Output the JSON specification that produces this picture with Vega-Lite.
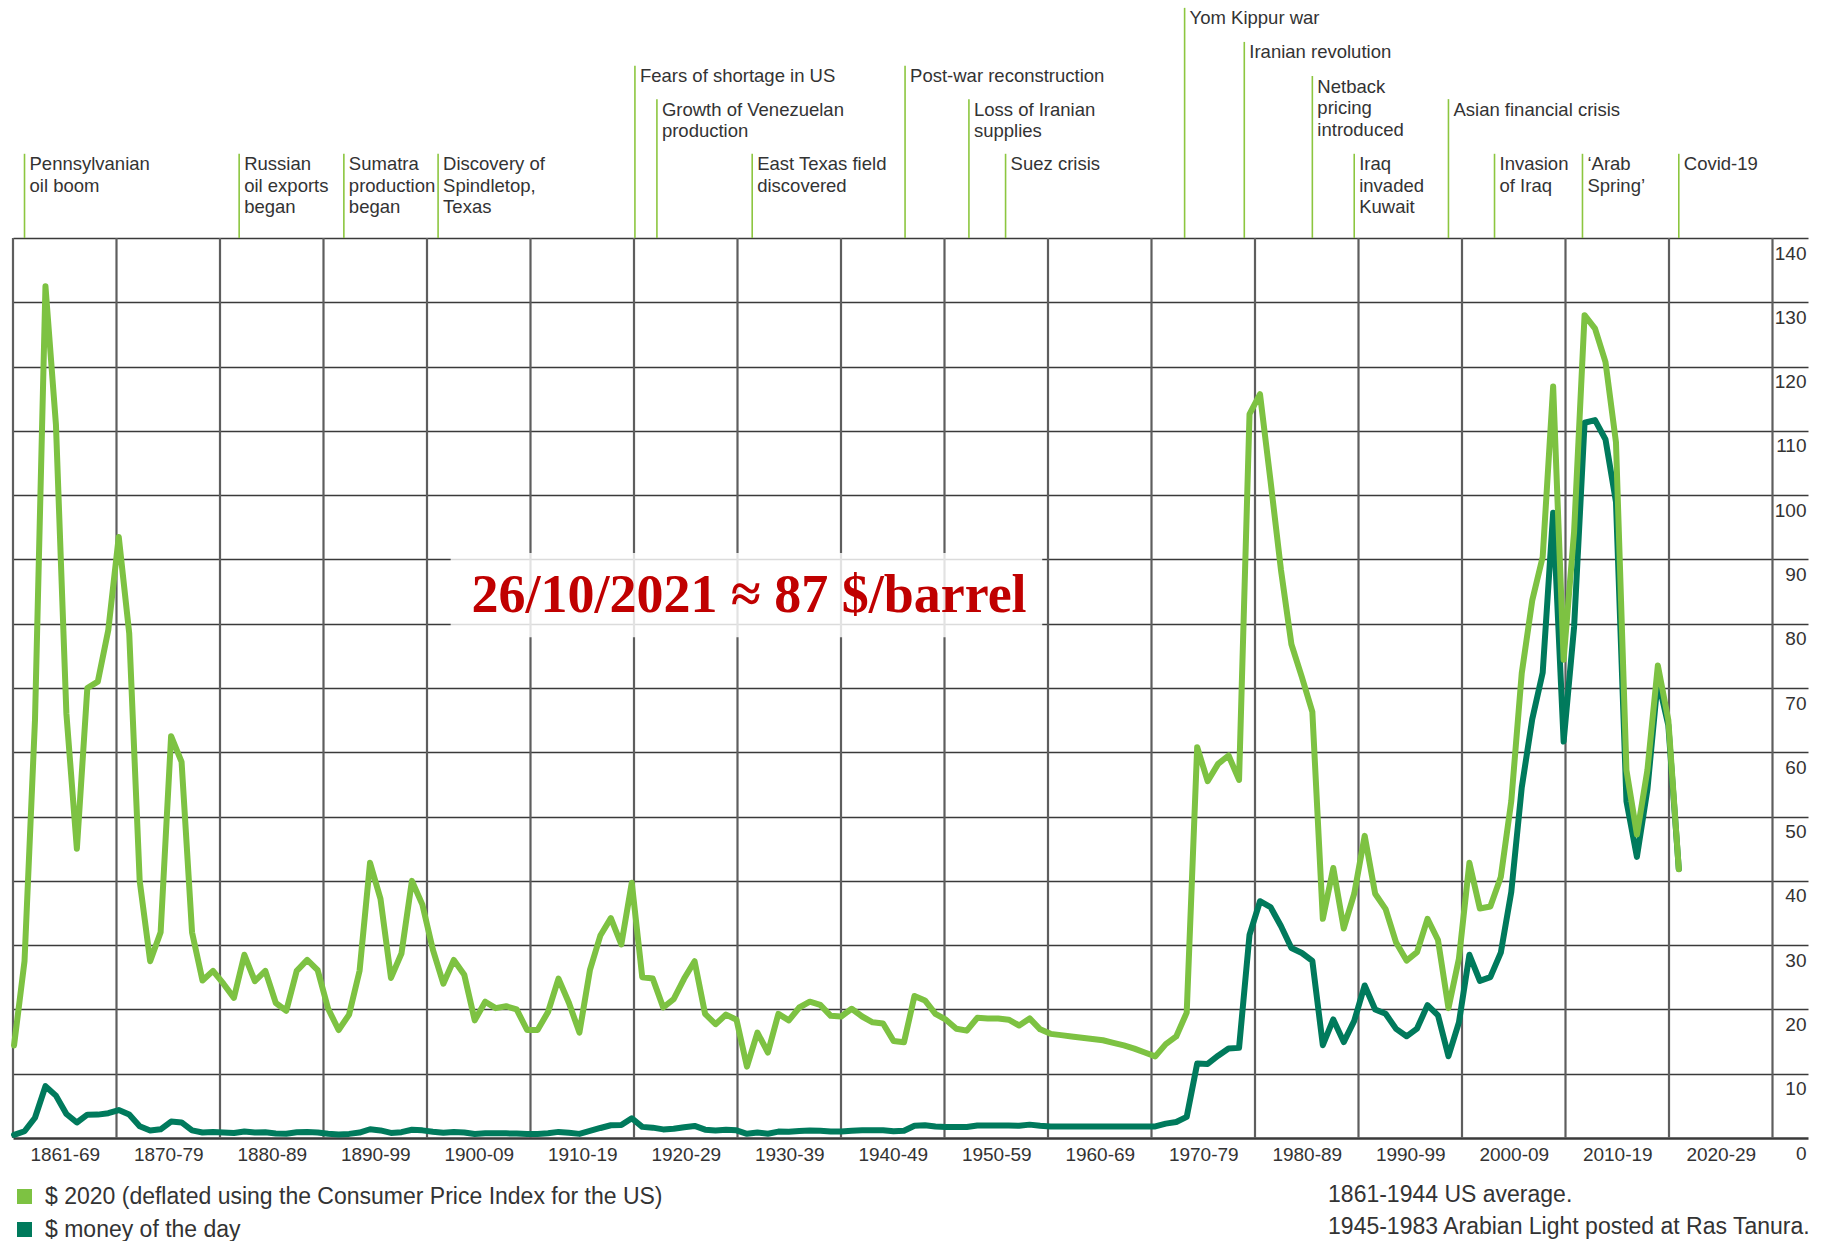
{
  "$schema": "https://vega.github.io/schema/vega-lite/v6.json",
  "width": 1795,
  "height": 900,
  "autosize": "none",
  "padding": {"left": 13, "top": 238, "right": 14, "bottom": 103},
  "background": "white",
  "config": {"view": {"stroke": null}, "font": "Liberation Sans"},
  "datasets": {
    "prices": [
      {"year":1861,"real":14.4,"nominal":0.49},{"year":1862,"real":27.5,"nominal":1.05},{"year":1863,"real":65,"nominal":3.15},{"year":1864,"real":132.5,"nominal":8.06},{"year":1865,"real":111,"nominal":6.59},{"year":1866,"real":66,"nominal":3.74},{"year":1867,"real":45,"nominal":2.41},{"year":1868,"real":70,"nominal":3.63},{"year":1869,"real":71,"nominal":3.64},{"year":1870,"real":79,"nominal":3.86},
      {"year":1871,"real":93.5,"nominal":4.34},{"year":1872,"real":78.5,"nominal":3.64},{"year":1873,"real":40,"nominal":1.83},{"year":1874,"real":27.5,"nominal":1.17},{"year":1875,"real":32,"nominal":1.35},{"year":1876,"real":62.5,"nominal":2.56},{"year":1877,"real":58.5,"nominal":2.42},{"year":1878,"real":32,"nominal":1.19},{"year":1879,"real":24.5,"nominal":0.86},{"year":1880,"real":26,"nominal":0.95},
      {"year":1881,"real":24,"nominal":0.86},{"year":1882,"real":21.8,"nominal":0.78},{"year":1883,"real":28.5,"nominal":1.0},{"year":1884,"real":24.4,"nominal":0.84},{"year":1885,"real":26,"nominal":0.88},{"year":1886,"real":21,"nominal":0.71},{"year":1887,"real":19.8,"nominal":0.67},{"year":1888,"real":26,"nominal":0.88},{"year":1889,"real":27.7,"nominal":0.94},{"year":1890,"real":26.1,"nominal":0.87},
      {"year":1891,"real":20.1,"nominal":0.67},{"year":1892,"real":16.8,"nominal":0.56},{"year":1893,"real":19.2,"nominal":0.64},{"year":1894,"real":26,"nominal":0.84},{"year":1895,"real":42.8,"nominal":1.36},{"year":1896,"real":37.2,"nominal":1.18},{"year":1897,"real":24.9,"nominal":0.79},{"year":1898,"real":28.7,"nominal":0.91},{"year":1899,"real":40,"nominal":1.29},{"year":1900,"real":36.3,"nominal":1.19},
      {"year":1901,"real":29.3,"nominal":0.96},{"year":1902,"real":24,"nominal":0.8},{"year":1903,"real":27.7,"nominal":0.94},{"year":1904,"real":25.4,"nominal":0.86},{"year":1905,"real":18.3,"nominal":0.62},{"year":1906,"real":21.2,"nominal":0.73},{"year":1907,"real":20.2,"nominal":0.72},{"year":1908,"real":20.5,"nominal":0.72},{"year":1909,"real":20,"nominal":0.7},{"year":1910,"real":16.8,"nominal":0.61},
      {"year":1911,"real":16.8,"nominal":0.61},{"year":1912,"real":19.6,"nominal":0.74},{"year":1913,"real":24.8,"nominal":0.95},{"year":1914,"real":21,"nominal":0.81},{"year":1915,"real":16.4,"nominal":0.64},{"year":1916,"real":26.1,"nominal":1.1},{"year":1917,"real":31.5,"nominal":1.56},{"year":1918,"real":34.2,"nominal":1.98},{"year":1919,"real":30.1,"nominal":2.01},{"year":1920,"real":39.7,"nominal":3.07},
      {"year":1921,"real":25,"nominal":1.73},{"year":1922,"real":24.8,"nominal":1.61},{"year":1923,"real":20.3,"nominal":1.34},{"year":1924,"real":21.6,"nominal":1.43},{"year":1925,"real":24.8,"nominal":1.68},{"year":1926,"real":27.5,"nominal":1.88},{"year":1927,"real":19.3,"nominal":1.3},{"year":1928,"real":17.7,"nominal":1.17},{"year":1929,"real":19.2,"nominal":1.27},{"year":1930,"real":18.4,"nominal":1.19},
      {"year":1931,"real":11.1,"nominal":0.65},{"year":1932,"real":16.4,"nominal":0.87},{"year":1933,"real":13.3,"nominal":0.67},{"year":1934,"real":19.3,"nominal":1.0},{"year":1935,"real":18.3,"nominal":0.97},{"year":1936,"real":20.3,"nominal":1.09},{"year":1937,"real":21.2,"nominal":1.18},{"year":1938,"real":20.7,"nominal":1.13},{"year":1939,"real":19,"nominal":1.02},{"year":1940,"real":18.9,"nominal":1.02},
      {"year":1941,"real":20.1,"nominal":1.14},{"year":1942,"real":18.9,"nominal":1.19},{"year":1943,"real":18,"nominal":1.2},{"year":1944,"real":17.8,"nominal":1.21},{"year":1945,"real":15.1,"nominal":1.05},{"year":1946,"real":14.9,"nominal":1.12},{"year":1947,"real":22.1,"nominal":1.9},{"year":1948,"real":21.4,"nominal":1.99},{"year":1949,"real":19.3,"nominal":1.78},{"year":1950,"real":18.4,"nominal":1.71},
      {"year":1951,"real":17,"nominal":1.71},{"year":1952,"real":16.7,"nominal":1.71},{"year":1953,"real":18.7,"nominal":1.93},{"year":1954,"real":18.6,"nominal":1.93},{"year":1955,"real":18.6,"nominal":1.93},{"year":1956,"real":18.4,"nominal":1.93},{"year":1957,"real":17.5,"nominal":1.9},{"year":1958,"real":18.6,"nominal":2.08},{"year":1959,"real":16.9,"nominal":1.9},{"year":1960,"real":16.2,"nominal":1.8},
      {"year":1961,"real":16,"nominal":1.8},{"year":1962,"real":15.8,"nominal":1.8},{"year":1963,"real":15.6,"nominal":1.8},{"year":1964,"real":15.4,"nominal":1.8},{"year":1965,"real":15.2,"nominal":1.8},{"year":1966,"real":14.8,"nominal":1.8},{"year":1967,"real":14.4,"nominal":1.8},{"year":1968,"real":13.9,"nominal":1.8},{"year":1969,"real":13.3,"nominal":1.8},{"year":1970,"real":12.7,"nominal":1.8},
      {"year":1971,"real":14.6,"nominal":2.24},{"year":1972,"real":15.8,"nominal":2.48},{"year":1973,"real":19.5,"nominal":3.29},{"year":1974,"real":60.8,"nominal":11.58},{"year":1975,"real":55.5,"nominal":11.53},{"year":1976,"real":58.2,"nominal":12.8},{"year":1977,"real":59.5,"nominal":13.92},{"year":1978,"real":55.7,"nominal":14.02},{"year":1979,"real":112.6,"nominal":31.61},{"year":1980,"real":115.7,"nominal":36.83},
      {"year":1981,"real":102.3,"nominal":35.93},{"year":1982,"real":88.4,"nominal":32.97},{"year":1983,"real":76.8,"nominal":29.55},{"year":1984,"real":71.7,"nominal":28.78},{"year":1985,"real":66.3,"nominal":27.56},{"year":1986,"real":34.1,"nominal":14.43},{"year":1987,"real":42,"nominal":18.44},{"year":1988,"real":32.6,"nominal":14.92},{"year":1989,"real":38,"nominal":18.23},{"year":1990,"real":47,"nominal":23.73},
      {"year":1991,"real":38,"nominal":20.0},{"year":1992,"real":35.6,"nominal":19.32},{"year":1993,"real":30.4,"nominal":16.97},{"year":1994,"real":27.6,"nominal":15.82},{"year":1995,"real":28.9,"nominal":17.02},{"year":1996,"real":34.1,"nominal":20.67},{"year":1997,"real":30.8,"nominal":19.09},{"year":1998,"real":20.2,"nominal":12.72},{"year":1999,"real":27.9,"nominal":17.97},{"year":2000,"real":42.8,"nominal":28.5},
      {"year":2001,"real":35.7,"nominal":24.44},{"year":2002,"real":36,"nominal":25.02},{"year":2003,"real":40.6,"nominal":28.83},{"year":2004,"real":52.4,"nominal":38.27},{"year":2005,"real":72.3,"nominal":54.52},{"year":2006,"real":83.6,"nominal":65.14},{"year":2007,"real":90.4,"nominal":72.39},{"year":2008,"real":116.9,"nominal":97.26},{"year":2009,"real":74.4,"nominal":61.67},{"year":2010,"real":94.3,"nominal":79.5},
      {"year":2011,"real":128,"nominal":111.26},{"year":2012,"real":125.9,"nominal":111.67},{"year":2013,"real":120.7,"nominal":108.66},{"year":2014,"real":108.2,"nominal":98.95},{"year":2015,"real":57.2,"nominal":52.39},{"year":2016,"real":47.2,"nominal":43.73},{"year":2017,"real":57.2,"nominal":54.19},{"year":2018,"real":73.5,"nominal":71.31},{"year":2019,"real":65,"nominal":64.21},{"year":2020,"real":41.8,"nominal":41.84}
    ],
    "decades": [
      {"decade":1860},{"decade":1870},{"decade":1880},{"decade":1890},{"decade":1900},{"decade":1910},{"decade":1920},{"decade":1930},{"decade":1940},{"decade":1950},{"decade":1960},{"decade":1970},{"decade":1980},{"decade":1990},{"decade":2000},{"decade":2010},{"decade":2020},{"decade":2030}
    ],
    "events": [
      {"label":"Pennsylvanian\noil boom","year":1862.0,"top":153.1},
      {"label":"Russian\noil exports\nbegan","year":1882.5,"top":153.1},
      {"label":"Sumatra\nproduction\nbegan","year":1892.5,"top":153.1},
      {"label":"Discovery of\nSpindletop,\nTexas","year":1901.5,"top":153.1},
      {"label":"Fears of shortage in US","year":1920.3,"top":166.8},
      {"label":"Growth of Venezuelan\nproduction","year":1922.4,"top":161.6},
      {"label":"East Texas field\ndiscovered","year":1931.5,"top":153.1},
      {"label":"Post-war reconstruction","year":1946.1,"top":166.8},
      {"label":"Loss of Iranian\nsupplies","year":1952.2,"top":161.6},
      {"label":"Suez crisis","year":1955.7,"top":153.1},
      {"label":"Yom Kippur war","year":1972.8,"top":175.8},
      {"label":"Iranian revolution","year":1978.5,"top":170.5},
      {"label":"Netback\npricing\nintroduced","year":1985.0,"top":165.2},
      {"label":"Iraq\ninvaded\nKuwait","year":1989.0,"top":153.1},
      {"label":"Asian financial crisis","year":1998.0,"top":161.6},
      {"label":"Invasion\nof Iraq","year":2002.4,"top":153.1},
      {"label":"‘Arab\nSpring’","year":2010.8,"top":153.1},
      {"label":"Covid-19","year":2020.0,"top":153.1}
    ]
  },
  "resolve": {"scale": {"x": "independent"}, "axis": {"x": "independent", "y": "independent"}},
  "layer": [
    {
      "data": {"name": "decades"},
      "mark": {"type": "rule", "stroke": "#5e5e5e", "strokeWidth": 2.2},
      "encoding": {
        "x": {"field": "decade", "type": "quantitative",
          "scale": {"domain": [1860, 2033.43], "nice": false, "zero": false},
          "axis": {"values": [1865,1875,1885,1895,1905,1915,1925,1935,1945,1955,1965,1975,1985,1995,2005,2015,2025],
            "labelExpr": "datum.value == 1865 ? '1861-69' : (datum.value - 5) + '-' + substring(toString(datum.value + 4), 2, 4)",
            "title": null, "domain": false, "ticks": false, "tickSize": 0, "grid": false,
            "labelFontSize": 19, "labelColor": "#333333", "labelPadding": 7, "labelFlush": false, "labelOverlap": false}},
        "y": {"datum": 0, "type": "quantitative", "scale": {"domain": [0, 140], "nice": false, "zero": false}, "axis": null},
        "y2": {"datum": 140}
      }
    },
    {
      "data": {"name": "prices"},
      "transform": [{"fold": ["real", "nominal"], "as": ["series", "price"]}, {"filter": "datum.series === 'nominal'"}],
      "mark": {"type": "line", "strokeWidth": 6, "strokeJoin": "round", "strokeCap": "round"},
      "encoding": {
        "x": {"field": "year", "type": "quantitative", "scale": {"domain": [1860.9, 2032.34], "nice": false, "zero": false}, "axis": null},
        "y": {"field": "price", "type": "quantitative", "scale": {"domain": [0, 140], "nice": false, "zero": false},
          "axis": {"orient": "right", "values": [0,10,20,30,40,50,60,70,80,90,100,110,120,130,140], "title": null,
            "domain": false, "ticks": false, "tickSize": 0, "grid": true, "gridColor": "#3a3a3a",
            "gridWidth": {"condition": {"test": "datum.value === 0", "value": 2.6}, "value": 1.5},
            "labelAlign": "right", "labelBaseline": "middle", "labelPadding": -2, "labelOffset": 15,
            "labelFontSize": 19, "labelColor": "#333333", "labelFlush": false, "labelOverlap": false}},
        "color": {"field": "series", "type": "nominal",
          "scale": {"domain": ["real", "nominal"], "range": ["#7dc242", "#007a5c"]},
          "legend": {"orient": "bottom", "direction": "vertical", "title": null, "symbolType": "square", "symbolSize": 225,
            "labelFontSize": 23, "labelColor": "#333333", "labelOffset": 9, "labelLimit": 1200, "rowPadding": 9, "padding": 0, "offset": 21,
            "labelExpr": "datum.value == 'real' ? '$ 2020 (deflated using the Consumer Price Index for the US)' : '$ money of the day'",
            "encode": {"symbols": {"update": {"fill": {"scale": "color", "field": "value"}, "fillOpacity": {"value": 1}, "strokeWidth": {"value": 0}}}}}}
      }
    },
    {
      "data": {"name": "prices"},
      "transform": [{"fold": ["real", "nominal"], "as": ["series", "price"]}, {"filter": "datum.series === 'real'"}],
      "mark": {"type": "line", "strokeWidth": 6, "strokeJoin": "round", "strokeCap": "round"},
      "encoding": {
        "x": {"field": "year", "type": "quantitative", "scale": {"domain": [1860.9, 2032.34], "nice": false, "zero": false}, "axis": null},
        "y": {"field": "price", "type": "quantitative", "scale": {"domain": [0, 140], "nice": false, "zero": false}, "axis": null},
        "color": {"field": "series", "type": "nominal", "scale": {"domain": ["real", "nominal"], "range": ["#7dc242", "#007a5c"]}}
      }
    },
    {
      "data": {"name": "events"},
      "encoding": {
        "x": {"field": "year", "type": "quantitative", "scale": {"domain": [1860.9, 2032.34], "nice": false, "zero": false}, "axis": null},
        "y": {"field": "top", "type": "quantitative", "scale": {"domain": [0, 140], "nice": false, "zero": false}, "axis": null}
      },
      "layer": [
        {"mark": {"type": "rule", "stroke": "#8cc63f", "strokeWidth": 1.6}, "encoding": {"y2": {"datum": 140}}},
        {"mark": {"type": "text", "align": "left", "baseline": "top", "dx": 5, "dy": 1.5, "fontSize": 18.5, "lineBreak": "\n", "lineHeight": 21.5, "color": "#333333"},
         "encoding": {"text": {"field": "label"}}}
      ]
    },
    {
      "data": {"values": [{}]},
      "mark": {"type": "rect", "fill": "white", "opacity": 0.82},
      "encoding": {
        "x": {"datum": 1902.7, "type": "quantitative", "scale": {"domain": [1860.9, 2032.34], "nice": false, "zero": false}, "axis": null},
        "x2": {"datum": 1959.2},
        "y": {"datum": 91.0, "type": "quantitative", "scale": {"domain": [0, 140], "nice": false, "zero": false}, "axis": null},
        "y2": {"datum": 77.9}
      }
    },
    {
      "data": {"values": [{"note": "26/10/2021 ≈ 87 $/barrel"}]},
      "mark": {"type": "text", "font": "Liberation Serif", "fontWeight": "bold", "fontSize": 54, "color": "#c00000", "align": "center", "baseline": "middle"},
      "encoding": {
        "x": {"datum": 1931.2, "type": "quantitative", "scale": {"domain": [1860.9, 2032.34], "nice": false, "zero": false}, "axis": null},
        "y": {"datum": 84.3, "type": "quantitative", "scale": {"domain": [0, 140], "nice": false, "zero": false}, "axis": null},
        "text": {"field": "note"}
      }
    },
    {
      "data": {"values": [{"note": "1861-1944 US average.\n1945-1983 Arabian Light posted at Ras Tanura."}]},
      "mark": {"type": "text", "align": "left", "baseline": "middle", "fontSize": 23, "lineBreak": "\n", "lineHeight": 31.5, "color": "#333333"},
      "encoding": {
        "x": {"datum": 1986.5, "type": "quantitative", "scale": {"domain": [1860.9, 2032.34], "nice": false, "zero": false}, "axis": null},
        "y": {"datum": -8.87, "type": "quantitative", "scale": {"domain": [0, 140], "nice": false, "zero": false}, "axis": null},
        "text": {"field": "note"}
      }
    }
  ]
}
